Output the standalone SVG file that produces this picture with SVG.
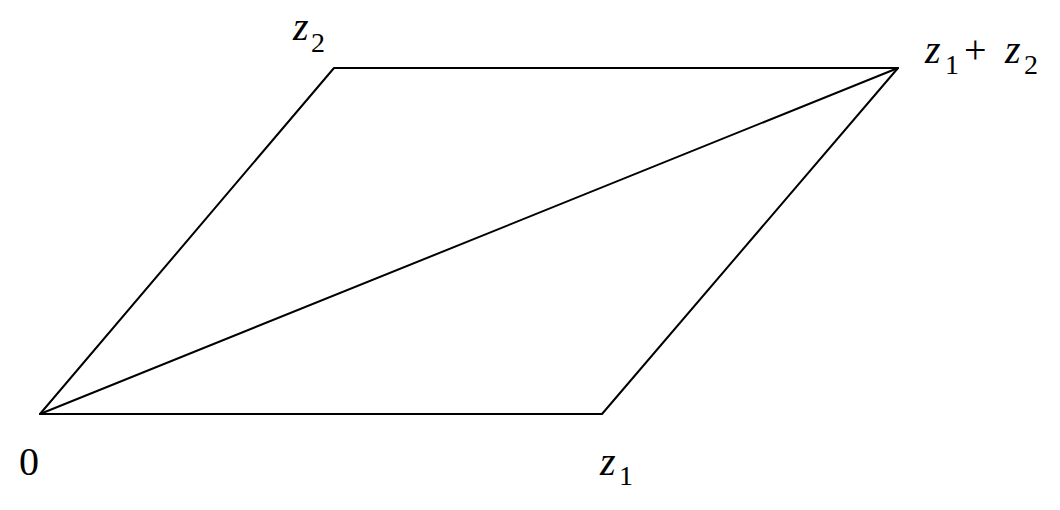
<svg xmlns="http://www.w3.org/2000/svg" width="1060" height="510" viewBox="0 0 1060 510">
<style>
.e{stroke:#000;stroke-width:2;fill:none;stroke-linecap:round;stroke-linejoin:round}
</style>
<rect width="1060" height="510" fill="#fff"/>
<g id="connectors">
<path class="e" d="M40,414 L602,414 L898,68 L334,68 Z"/>
<path class="e" d="M40,414 L898,68"/>
</g>
<g id="node-0"><text font-family="Liberation Serif" font-size="40" x="19" y="475">0</text></g>
<g id="node-z1"><text font-family="Liberation Serif" font-style="italic" font-size="40" x="600" y="475">z</text><text font-family="Liberation Serif" font-size="28" x="619" y="485">1</text></g>
<g id="node-z2"><text font-family="Liberation Serif" font-style="italic" font-size="40" x="293" y="40">z</text><text font-family="Liberation Serif" font-size="28" x="311" y="52">2</text></g>
<g id="node-z1z2"><text font-family="Liberation Serif" font-style="italic" font-size="40" x="925" y="63">z</text><text font-family="Liberation Serif" font-size="28" x="945" y="74">1</text><text font-family="Liberation Serif" font-size="40" x="964" y="63">+</text><text font-family="Liberation Serif" font-style="italic" font-size="40" x="1005" y="63">z</text><text font-family="Liberation Serif" font-size="28" x="1024" y="74">2</text></g>
</svg>
